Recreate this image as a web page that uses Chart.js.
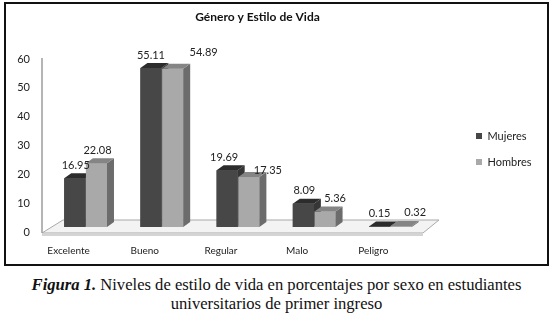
<!DOCTYPE html>
<html>
<head>
<meta charset="utf-8">
<script src="https://cdn.jsdelivr.net/npm/chart.js@4.4.1/dist/chart.umd.min.js"></script>
<style>
  html, body { margin: 0; padding: 0; background: #fff; }
  #frame {
    position: absolute; left: 4px; top: 2px;
    width: 541px; height: 260px;
    border: 2px solid #111;
  }
  #caption {
    position: absolute; left: 0; top: 275px; width: 553px;
    text-align: center;
    font-family: "Liberation Serif", "DejaVu Serif", serif;
    font-size: 16.6px; line-height: 19px; color: #111;
  }
  #caption b { font-style: italic; }
</style>
</head>
<body>
<div id="frame"><canvas id="chart-estilo"></canvas></div>
<div id="caption"><b>Figura 1.</b> Niveles de estilo de vida en porcentajes por sexo en estudiantes<br>universitarios de primer ingreso</div>
<script>
// categorías y porcentajes
const CATEGORIAS = ["Excelente", "Bueno", "Regular", "Malo", "Peligro"];
const MUJERES = [16.95, 55.11, 19.69, 8.09, 0.15];
const HOMBRES = [22.08, 54.89, 17.35, 5.36, 0.32];
const Y_TICKS = [0, 10, 20, 30, 40, 50, 60];

const FONT = "Lato, 'Open Sans', sans-serif";

// caras 3D: [frente, arriba, lado]
const CARAS = [
  ["#474747", "#2c2c2c", "#363636"],
  ["#a9a9a9", "#858585", "#6c6c6c"]
];
const DX = 7, DY = 5;

// piso y eje en perspectiva
const pisoPlugin = {
  id: "piso",
  beforeDatasetsDraw(chart) {
    const { ctx, chartArea: a, scales: { y } } = chart;
    const y0 = y.getPixelForValue(0);
    ctx.save();
    ctx.beginPath();
    ctx.moveTo(a.left - 5.5, y0 + 6);
    ctx.lineTo(a.left + 15.5, y0 - 7);
    ctx.lineTo(a.right + 10.5, y0 - 7);
    ctx.lineTo(a.right - 5.5, y0 + 6);
    ctx.closePath();
    ctx.fillStyle = "#f3f3f3";
    ctx.fill();
    ctx.strokeStyle = "#a8a8a8";
    ctx.lineWidth = 1;
    ctx.stroke();
    // canto frontal
    ctx.fillStyle = "#d4d4d4";
    ctx.fillRect(a.left - 5.5, y0 + 6.5, a.right - a.left, 2.5);
    // eje vertical
    ctx.beginPath();
    ctx.moveTo(a.left - 5.5, y.getPixelForValue(60) + 4);
    ctx.lineTo(a.left - 5.5, y0 + 6);
    ctx.strokeStyle = "#9c9c9c";
    ctx.lineWidth = 1.5;
    ctx.stroke();
    ctx.restore();
  }
};

function poly(ctx, pts, color) {
  ctx.beginPath();
  ctx.moveTo(pts[0][0], pts[0][1]);
  for (let i = 1; i < pts.length; i++) ctx.lineTo(pts[i][0], pts[i][1]);
  ctx.closePath();
  ctx.fillStyle = color;
  ctx.fill();
}

// redibuja cada barra con cara superior y lateral, categoría por categoría
const barras3D = {
  id: "barras3D",
  afterDatasetsDraw(chart) {
    const { ctx } = chart;
    const metas = chart.data.datasets.map((d, i) => chart.getDatasetMeta(i));
    ctx.save();
    CATEGORIAS.forEach((c, i) => {
      metas.forEach((meta, di) => {
        const bar = meta.data[i];
        const caras = CARAS[di];
        const l = bar.x - bar.width / 2, r = bar.x + bar.width / 2;
        const t = bar.y, b = bar.base;
        poly(ctx, [[l, t], [r, t], [r, b], [l, b]], caras[0]);
        poly(ctx, [[r, t], [r + DX, t - DY], [r + DX, b - DY], [r, b]], caras[2]);
        poly(ctx, [[l, t], [l + DX, t - DY], [r + DX, t - DY], [r, t]], caras[1]);
      });
    });
    ctx.restore();
  }
};

// etiquetas de valor
const etiquetas = {
  id: "etiquetas",
  afterDatasetsDraw(chart, args, opts) {
    const { ctx } = chart;
    ctx.save();
    ctx.font = "11px " + FONT;
    ctx.fillStyle = "#222";
    ctx.textAlign = "center";
    ctx.textBaseline = "middle";
    chart.data.datasets.forEach((ds, di) => {
      const meta = chart.getDatasetMeta(di);
      meta.data.forEach((bar, i) => {
        const n = opts.nudge[di][i];
        ctx.fillText(ds.data[i].toFixed(2), bar.x + n[0], bar.y - 13 + n[1]);
      });
    });
    ctx.restore();
  }
};

// coloca la leyenda en posición fija (valores absolutos, no acumulativos)
const leyendaPos = {
  id: "leyendaPos",
  afterLayout(chart) {
    const lg = chart.legend;
    const w = lg.right - lg.left;
    const h = lg.bottom - lg.top;
    lg.left = 455;
    lg.right = lg.left + w;
    lg.top = chart.chartArea.top - 35;
    lg.bottom = lg.top + h;
  }
};

new Chart(document.getElementById("chart-estilo"), {
  type: "bar",
  data: {
    labels: CATEGORIAS,
    datasets: [
      { label: "Mujeres", data: MUJERES, backgroundColor: CARAS[0][0] },
      { label: "Hombres", data: HOMBRES, backgroundColor: CARAS[1][0] }
    ]
  },
  options: {
    responsive: true,
    maintainAspectRatio: false,
    animation: false,
    layout: { padding: { right: 38 } },
    datasets: { bar: { categoryPercentage: 0.57, barPercentage: 0.97, borderWidth: 0 } },
    plugins: {
      title: {
        display: true,
        text: "Género y Estilo de Vida",
        color: "#111",
        font: { family: FONT, size: 12, weight: "bold" },
        padding: { top: 6, bottom: 29.6 }
      },
      legend: {
        display: true,
        position: "right",
        labels: {
          boxWidth: 6, boxHeight: 6, padding: 15,
          color: "#222",
          font: { family: FONT, size: 11 }
        }
      },
      tooltip: { enabled: false },
      etiquetas: {
        nudge: [
          [[1, 0], [0, 0], [-3, 0], [1, 0], [0, 0]],
          [[1, 0], [31, -3], [19, 6], [10, 0], [14, -1]]
        ]
      }
    },
    scales: {
      x: {
        afterFit: s => { s.height = 37; },
        grid: { display: false, drawTicks: false },
        border: { display: false },
        ticks: { color: "#222", font: { family: FONT, size: 10 }, padding: 18, labelOffset: -17 }
      },
      y: {
        min: 0, max: 60,
        afterFit: s => { s.width = 41.5; },
        afterBuildTicks: s => { s.ticks = Y_TICKS.map(v => ({ value: v })); },
        grid: { display: false, drawTicks: false },
        border: { display: false },
        ticks: { color: "#222", font: { family: FONT, size: 11 }, padding: 17.5, labelOffset: 5 }
      }
    }
  },
  plugins: [pisoPlugin, barras3D, etiquetas, leyendaPos]
});
</script>
</body>
</html>
